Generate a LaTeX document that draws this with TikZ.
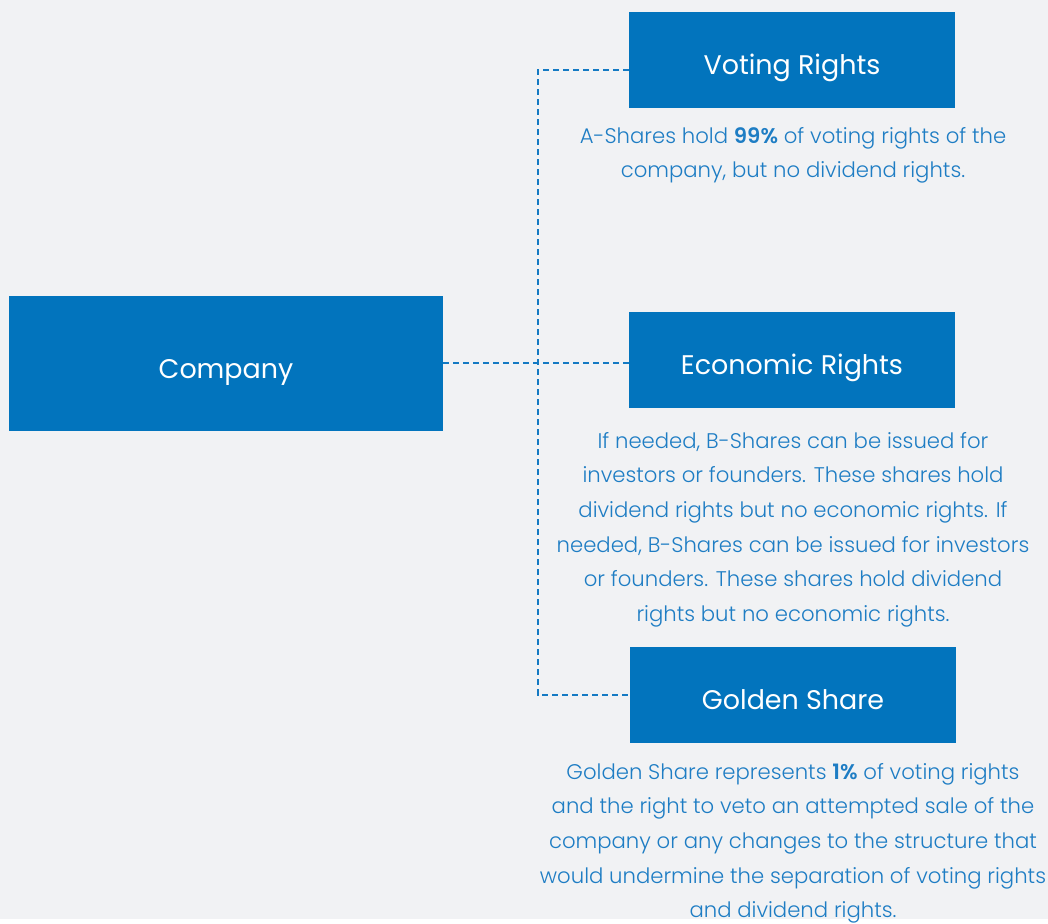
\documentclass[tikz,border=0pt]{standalone}
\usepackage{fontspec}
\setmainfont{Poppins}
\newfontfamily\NoteFont{Poppins}[UprightFont={* Light},BoldFont={* SemiBold}]
\usepackage{xcolor}
\definecolor{Col1}{RGB}{2,116,189}
\definecolor{Col2}{RGB}{30,125,196}
\definecolor{Col3}{RGB}{20,122,195}
\definecolor{ColBg}{RGB}{241,242,244}
\usetikzlibrary{calc}
\tikzstyle{Back}=[fill=ColBg]
\tikzstyle{Box}=[rectangle,fill=Col1,text=white,inner sep=0pt,
minimum width=244.5pt,minimum height=72pt,text height=22pt,
text depth=0pt,font=\fontsize{20.2}{24}\selectfont]
\tikzstyle{Edge}=[draw=Col3,line width=1.5pt,dash pattern=on 4.5pt off 3pt]
\tikzstyle{Note}=[anchor=north,align=center,inner sep=0pt,text=Col2,
font=\NoteFont\fontsize{15.9}{26}\selectfont]

\begin{document}
\begin{tikzpicture}[x=0.75pt,y=-0.75pt]
        \fill[Back](0,0)rectangle(1048,919);
        \node[Box,minimum width=325.5pt,minimum height=101.25pt](company)
            at(226,363.5){Company};
        \node[Box](voting)at(792,60){Voting Rights};
        \node[Box](econ)at(792,360){Economic Rights};
        \node[Box](golden)at(793,695){Golden Share};
        \coordinate(trunk)at(538,363);
        \draw[Edge]([yshift=-7.5pt]voting.west)-|(trunk)|-(golden.west);
        \draw[Edge](company.east|-trunk)--(econ.west|-trunk);
        \node[Note](votingtxt)at(793,127)
            {A-Shares hold \textbf{99\%} of voting rights of the\\
            company, but no dividend rights.};
        \node[Note](econtxt)at(793,432)
            {If needed, B-Shares can be issued for\\
            investors or founders. These shares hold\\
            dividend rights but no economic rights. If\\
            needed, B-Shares can be issued for investors\\
            or founders. These shares hold dividend\\
            rights but no economic rights.};
        \node[Note](goldentxt)at(793,763)
            {Golden Share represents \textbf{1\%} of voting rights\\
            and the right to veto an attempted sale of the\\
            company or any changes to the structure that\\
            would undermine the separation of voting rights\\
            and dividend rights.};
    \end{tikzpicture}
\end{document}
